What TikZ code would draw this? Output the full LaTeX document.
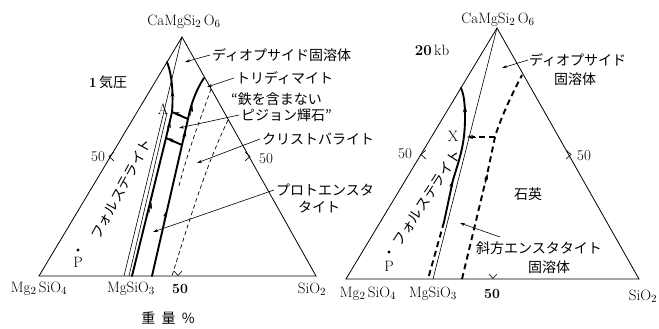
\documentclass[tikz,border=0pt]{standalone}
\usepackage{fontspec}
\newfontfamily\jp{Noto Sans CJK JP}
\usetikzlibrary{arrows.meta}
\begin{document}
\begin{tikzpicture}[x=1pt,y=-1pt,
  tri/.style={line width=0.8pt, line join=miter},
  jline/.style={line width=0.6pt},
  bnd/.style={line width=1.9pt, line cap=round},
  dsh/.style={line width=0.7pt, dash pattern=on 4pt off 3pt},
  bdsh/.style={line width=1.9pt, dash pattern=on 6pt off 4pt},
  jlab/.style={font=\jp\fontsize{14}{16}\selectfont, inner sep=0pt},
  rlab/.style={font=\fontsize{15}{17}\selectfont, inner sep=0pt},
  nlab/.style={font=\fontsize{14}{16}\selectfont\bfseries, inner sep=0pt},
  ptr/.style={line width=0.6pt, -{Stealth[length=5pt,width=3pt]}},
  tipm/.style={line width=0.5pt, -{Stealth[length=6pt,width=4pt]}},
  chev/.style={line width=0.6pt},
]
\useasboundingbox (0,0) rectangle (659,329);
% ================= LEFT TRIANGLE (1 atm) =================
\coordinate (LA) at (39,276);
\coordinate (LB) at (316,276);
\coordinate (LC) at (182,37);
\coordinate (LMS) at (124,276);
\draw[tri] (LA) -- (LB) -- (LC) -- cycle;
\draw[jline] (LC) -- (LMS);
\draw[jline] (167,113) -- (129,276);
% boundaries
\coordinate (A1) at (172,112);
\coordinate (T1a) at (188,119);
\coordinate (T2a) at (166,138);
\coordinate (T2b) at (182,145);
\draw[bnd] (132,276) -- (T2a) -- (A1) .. controls (173.5,95) and (172,74) .. (167,62);
\draw[bnd] (152,276) -- (T2b) -- (T1a) .. controls (191,104) and (196,90) .. (204,78);
\draw[bnd] (A1) -- (T1a);
\draw[bnd] (T2a) -- (T2b);
\draw[dsh] (211,89) .. controls (203,112) and (188,150) .. (179,186);
\draw[dsh] (228,120) .. controls (214,150) and (203,175) .. (172,276);
% arrowheads on boundaries
\draw[tipm] (172.5,101) -- (172.4,91);
\draw[tipm] (168,132) -- (170,122);
\draw[tipm] (149,213) -- (151.5,203);
\draw[tipm] (190,116) -- (192.5,106);
\draw[tipm] (183.5,141) -- (185.5,131);
\draw[tipm] (164,221) -- (166.5,211);
\draw[tipm] (181,115) -- (173.5,112.3);
\draw[tipm] (175,141.5) -- (167.5,138.5);
% ticks
\draw[chev] (114,152) -- (109,156.5) -- (114,161);
\draw[chev] (245,152) -- (250,156.5) -- (245,161);
\draw[chev] (174,271) -- (178,275.5) -- (182,271);
% point P
\fill (78,250) circle (1.6);
\node[rlab] (lP) at (78,262) {P};
\node[rlab] (lA) at (163,109) {A};
% labels
\node[rlab] (lapex) at (184,22) {CaMgSi$_{2}\,$O$_{6}$};
\node[jlab] (l1atm) at (108,82) {{\normalfont\bfseries 1}\,気圧};
\node[rlab] (l50a) at (98,157) {50};
\node[rlab] (l50b) at (266,159) {50};
\node[nlab] (l50c) at (180,289) {50};
\node[rlab] (lMg2) at (39,289) {Mg$_{2}\,$SiO$_{4}$};
\node[rlab] (lMgS) at (131,289) {MgSiO$_{3}$};
\node[rlab] (lSi) at (312,289) {SiO$_{2}$};
\node[jlab] (lwt) at (168,318) {重\ \ 量\ \ \%};
\node[jlab, rotate=61.5] (lfo) at (121.5,189) {フォルステライト};
\node[jlab, anchor=west] (ldi) at (212,55) {ディオプサイド固溶体};
\node[jlab, anchor=west] (ltr) at (236,78) {トリディマイト};
\node[jlab, anchor=west] (lpg1) at (231,99) {“鉄を含まない};
\node[jlab, anchor=west] (lpg2) at (241,115) {ピジョン輝石”};
\node[jlab, anchor=west] (lcr) at (262,139) {クリストバライト};
\node[jlab, anchor=west] (lpe1) at (276,190) {プロトエンスタ};
\node[jlab, anchor=west] (lpe2) at (298,207) {タイト};
\coordinate (pdi) at (185,62);
\coordinate (ptr) at (207,87);
\coordinate (ppg) at (179,128);
\coordinate (pcr) at (197,163);
\coordinate (ppe) at (153,232);
\draw[ptr] ([xshift=-2pt]ldi.west) -- (pdi);
\draw[ptr] ([xshift=-2pt]ltr.west) -- (ptr);
\draw[ptr] ([xshift=-2pt]lpg2.west) -- (ppg);
\draw[ptr] ([xshift=-2pt]lcr.west) -- (pcr);
\draw[ptr] ([xshift=-2pt]lpe1.west) -- (ppe);
% ================= RIGHT TRIANGLE (20 kb) =================
\coordinate (RA) at (346,279);
\coordinate (RB) at (639,279);
\coordinate (RC) at (497,28);
\coordinate (RMS) at (433,279);
\draw[tri] (RA) -- (RB) -- (RC) -- cycle;
\draw[jline] (RC) -- (RMS);
\coordinate (X1) at (462,137);
\draw[bnd] (444,222) -- (453,180) .. controls (459,160) and (465,145) .. (465,118) .. controls (465,104) and (464,95) .. (461,88);
\draw[bdsh] (444,222) -- (428,279);
\coordinate (TX) at (495,137);
\draw[bdsh] (462,279) -- (487,175) -- (TX) .. controls (500,120) and (510,98) .. (522,75);
\draw[bdsh] (TX) -- (472,137);
\draw[tipm] (476,137) -- (467,137);
\draw[tipm] (465,116) -- (465,106);
\draw[tipm] (450,191) -- (452.5,181);
\draw[tipm] (485,184) -- (487.5,174);
% ticks
\draw[chev] (426,150) -- (421,154.5) -- (426,159);
\draw[chev] (566,150) -- (571,154.5) -- (566,159);
\draw[chev] (489,274) -- (493,278.5) -- (497,274);
\fill (389,252) circle (1.6);
\node[rlab] (rP) at (389,266) {P};
\node[rlab] (rX) at (453,136) {X};
\node[rlab] (rapex) at (498,20) {CaMgSi$_{2}\,$O$_{6}$};
\node[rlab] (r20) at (432,50) {{\bfseries 20}\,kb};
\node[rlab] (r50a) at (405,154) {50};
\node[rlab] (r50b) at (584,156) {50};
\node[nlab] (r50c) at (492,294) {50};
\node[rlab] (rMg2) at (368,294) {Mg$_{2}\,$SiO$_{4}$};
\node[rlab] (rMgS) at (433,294) {MgSiO$_{3}$};
\node[rlab] (rSi) at (643,296) {SiO$_{2}$};
\node[jlab, rotate=57] (rfo) at (427,198) {フォルステライト};
\node[jlab, anchor=west] (rdi1) at (529,60) {ディオプサイド};
\node[jlab] (rdi2) at (575,79) {固溶体};
\node[jlab] (rqz) at (528,194) {石英};
\node[jlab, anchor=west] (ren1) at (476,248) {斜方エンスタタイト};
\node[jlab] (ren2) at (549,267) {固溶体};
\coordinate (rpdi) at (502,68);
\coordinate (rpen) at (460,223);
\coordinate (rpens) at (500,237);
\draw[ptr] ([xshift=-1pt]rdi1.west) -- (rpdi);
\draw[ptr] (rpens) -- (rpen);
\end{tikzpicture}
\end{document}
